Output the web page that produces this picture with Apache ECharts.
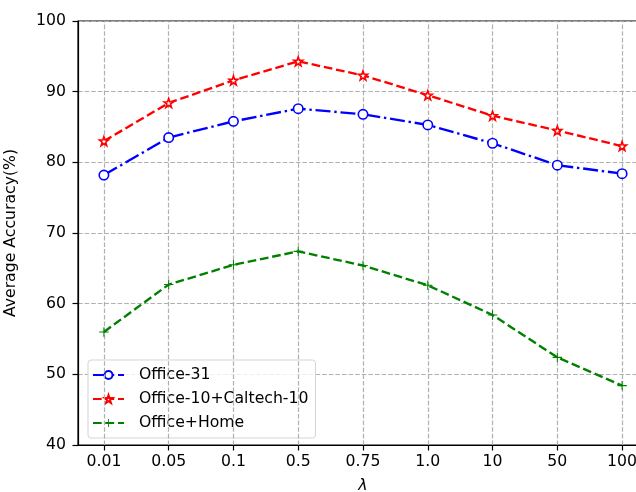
<!DOCTYPE html>
<html><head><meta charset="utf-8">
<script src="https://cdn.jsdelivr.net/npm/echarts@6/dist/echarts.min.js"></script>
<style>html,body{margin:0;padding:0;background:#fff}#c{width:636px;height:492px}</style>
</head><body><div id="c"></div>
<script>
const categories = ['0.01','0.05','0.1','0.5','0.75','1.0','10','50','100'];
const office31 = [78.2, 83.5, 85.8, 87.6, 86.8, 85.3, 82.7, 79.6, 78.4];
const officeCaltech = [83.0, 88.4, 91.6, 94.3, 92.3, 89.5, 86.6, 84.5, 82.3];
const officeHome = [56.0, 62.7, 65.5, 67.4, 65.4, 62.6, 58.4, 52.4, 48.4];
const yTicks = [40, 50, 60, 70, 80, 90, 100];
const seriesNames = ['Office-31', 'Office-10+Caltech-10', 'Office+Home'];

const idx = categories.map((_, i) => i);
const pairs = arr => arr.map((v, i) => [i, v]);
const star = 'path://M0,-10 L2.35,-3.24 9.51,-3.09 3.8,1.24 5.88,8.09 0,4 -5.88,8.09 -3.8,1.24 -9.51,-3.09 -2.35,-3.24 Z';
const plus = 'path://M-1.1,-10 L1.1,-10 L1.1,-1.1 L10,-1.1 L10,1.1 L1.1,1.1 L1.1,10 L-1.1,10 L-1.1,1.1 L-10,1.1 L-10,-1.1 L-1.1,-1.1 Z';
const font = 'DejaVu Sans';
const fs = 15.7;

const chart = echarts.init(document.getElementById('c'), null, {renderer: 'canvas'});
chart.setOption({
  animation: false,
  grid: {left: 78, top: 21, right: -12, bottom: 47, containLabel: false, outerBoundsMode: 'none',
         show: true, borderColor: '#000', borderWidth: 1.2, backgroundColor: 'transparent'},
  xAxis: {
    type: 'value', min: -0.4, max: 8.4,
    name: 'λ', nameLocation: 'middle', nameGap: 33,
    nameTextStyle: {fontFamily: font, fontSize: fs, fontStyle: 'italic', color: '#000'},
    axisLine: {show: true, onZero: false, lineStyle: {color: '#000', width: 1.2}},
    axisTick: {show: true, customValues: idx, length: 5.5, lineStyle: {color: '#000', width: 1.2}},
    axisLabel: {customValues: idx, formatter: v => categories[Math.round(v)], fontFamily: font, fontSize: fs, color: '#000', margin: 9},
    splitLine: {show: false}
  },
  yAxis: {
    type: 'value', min: yTicks[0], max: yTicks[yTicks.length-1], interval: 10,
    name: 'Average Accuracy(%)', nameLocation: 'middle', nameGap: 59,
    nameTextStyle: {fontFamily: font, fontSize: fs, color: '#000'},
    axisLine: {show: true, onZero: false, lineStyle: {color: '#000', width: 1.2}},
    axisTick: {show: true, length: 5.5, lineStyle: {color: '#000', width: 1.2}},
    axisLabel: {fontFamily: font, fontSize: fs, color: '#000', margin: 12},
    splitLine: {show: true, lineStyle: {color: '#b0b0b0', width: 1.2, type: [4.6, 2]}}
  },
  legend: {
    left: 88, top: 360, orient: 'vertical',
    data: seriesNames,
    backgroundColor: 'rgba(255,255,255,0.8)', borderColor: '#d5d5d5', borderWidth: 1, borderRadius: 3,
    padding: [7, 7, 7, 4], itemGap: 8, itemWidth: 31, itemHeight: 10,
    textStyle: {fontFamily: font, fontSize: fs, color: '#000', padding: [0, 0, 0, 10]}
  },
  series: [
    {
      name: seriesNames[0], type: 'line', data: pairs(office31), z: 5,
      symbol: 'circle', symbolSize: 9.4,
      lineStyle: {color: '#0000ff', width: 2.35, type: [15, 3.8, 2.4, 3.8]},
      itemStyle: {color: '#ffffff', borderColor: '#0000ff', borderWidth: 1.6}
    },
    {
      name: seriesNames[1], type: 'line', data: pairs(officeCaltech), z: 5,
      symbol: star, symbolSize: 9,
      lineStyle: {color: '#ff0000', width: 2.35, type: [8.7, 3.8]},
      itemStyle: {color: '#ffffff', borderColor: '#ff0000', borderWidth: 1.6}
    },
    {
      name: seriesNames[2], type: 'line', data: pairs(officeHome), z: 5,
      symbol: plus, symbolSize: 9.4,
      lineStyle: {color: '#008000', width: 2.35, type: [8.7, 3.8]},
      itemStyle: {color: '#008000', borderColor: '#008000', borderWidth: 0}
    },
    {
      type: 'line', data: [], silent: true,
      markLine: {
        silent: true, symbol: 'none', label: {show: false}, animation: false,
        lineStyle: {color: '#b0b0b0', width: 1.2, type: [4.6, 2]},
        data: idx.map(i => ({xAxis: i}))
      }
    }
  ]
});
</script>
</body></html>
